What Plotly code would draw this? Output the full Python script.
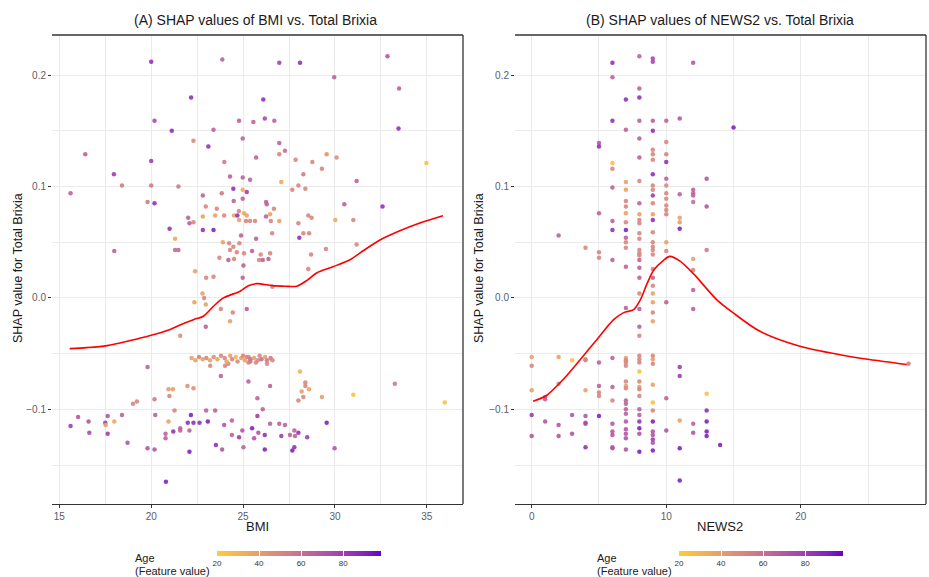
import plotly.graph_objects as go

# ---------------- DATA ----------------
# Panel A: BMI vs SHAP value (colour = Age)
bmi = [
    20.0, 23.87, 22.17, 20.18, 21.12, 23.39, 24.78, 25.56, 24.98, 22.30,
    23.11, 16.41, 20.0, 25.71, 23.98, 17.97, 24.29, 24.98, 25.38, 18.41,
    20.0, 21.48, 15.61, 22.81, 23.84, 24.47, 24.98, 25.20, 24.49, 24.98,
    19.80, 20.18, 22.97, 23.57, 24.77, 25.05, 22.01, 22.30, 22.08, 22.81,
    23.48, 23.97, 24.51, 24.69, 25.20, 24.78, 25.16, 25.38, 25.65, 21.0,
    22.81, 23.39, 24.89, 21.30, 23.90, 24.24, 24.80, 24.47, 25.71, 17.99,
    21.30, 21.48, 24.29, 24.66, 25.05, 25.49, 23.71, 24.20, 24.51, 25.02,
    25.87, 26.97, 28.10, 32.86, 29.96, 33.49, 26.10, 26.18, 26.70, 33.46,
    26.97, 27.28, 26.97, 27.86, 28.77, 29.55, 30.09, 29.29, 28.28, 31.18,
    27.08, 34.98, 28.01, 27.68, 28.39, 30.51, 32.59, 26.25, 26.29, 26.68,
    26.47, 26.25, 26.51, 26.97, 28.55, 28.73, 28.01, 30.02, 31.0, 26.58,
    28.28, 28.59, 28.06, 29.51, 31.18, 28.70, 25.96, 26.47, 26.38, 26.07,
    28.55, 22.39, 22.99, 23.39, 24.98, 22.79, 22.88, 22.97, 22.35, 23.79,
    24.44, 25.20, 22.97, 24.29, 21.58, 23.21, 24.02, 24.20, 25.29, 19.80,
    23.79, 25.29, 20.94, 21.18, 20.99, 21.97, 22.30, 19.01, 19.22, 20.18,
    21.27, 25.78, 15.61, 16.02, 16.59, 16.63, 17.50, 17.52, 17.63, 17.63,
    17.99, 18.41, 18.71, 19.80, 20.18, 20.22, 20.94, 20.78, 20.78, 21.20,
    21.58, 21.58, 21.99, 22.16, 22.08, 22.30, 22.63, 22.99, 23.08, 23.48,
    22.08, 23.52, 23.86, 23.97, 24.39, 24.39, 24.78, 24.96, 25.02, 25.49,
    25.60, 25.78, 25.83, 20.80, 26.59, 28.10, 28.39, 28.39, 28.19, 28.59,
    28.28, 28.01, 29.29, 31.0, 33.26, 35.98, 26.47, 26.07, 26.18, 26.47,
    26.97, 27.28, 27.08, 27.55, 27.79, 27.83, 28.01, 28.49, 29.55, 26.18,
    27.68, 27.79, 29.98, 22.2, 22.4, 22.6, 22.8, 23.0, 23.2, 23.4,
    23.6, 23.8, 24.0, 24.1, 24.3, 24.4, 24.6, 24.7, 24.9, 25.0,
    25.1, 25.3, 25.4, 25.6, 25.8, 25.9, 26.0, 26.2, 26.3, 26.5,
    26.6, 25.2, 25.4, 25.7, 26.3,
]
shap_bmi = [
    0.212, 0.214, 0.180, 0.159, 0.150, 0.151, 0.159, 0.158, 0.143, 0.141,
    0.136, 0.129, 0.123, 0.126, 0.122, 0.111, 0.109, 0.108, 0.106, 0.101,
    0.101, 0.100, 0.094, 0.092, 0.094, 0.098, 0.097, 0.095, 0.087, 0.089,
    0.086, 0.085, 0.082, 0.080, 0.078, 0.076, 0.072, 0.068, 0.067, 0.073,
    0.074, 0.074, 0.074, 0.074, 0.074, 0.070, 0.069, 0.069, 0.069, 0.062,
    0.061, 0.061, 0.056, 0.053, 0.050, 0.049, 0.049, 0.046, 0.053, 0.042,
    0.043, 0.043, 0.043, 0.041, 0.040, 0.042, 0.036, 0.034, 0.035, 0.029,
    0.034, 0.211, 0.211, 0.217, 0.198, 0.188, 0.178, 0.161, 0.159, 0.152,
    0.139, 0.132, 0.129, 0.124, 0.122, 0.129, 0.126, 0.116, 0.111, 0.105,
    0.104, 0.121, 0.101, 0.097, 0.098, 0.084, 0.082, 0.086, 0.084, 0.080,
    0.075, 0.073, 0.069, 0.069, 0.074, 0.072, 0.067, 0.070, 0.070, 0.058,
    0.058, 0.058, 0.054, 0.044, 0.048, 0.039, 0.039, 0.040, 0.035, 0.034,
    0.026, 0.024, 0.018, 0.019, 0.018, 0.004, 0.000, -0.006, -0.004, -0.010,
    -0.013, -0.010, -0.026, -0.021, -0.034, -0.061, -0.061, -0.059, -0.058, -0.062,
    -0.070, -0.075, -0.082, -0.082, -0.088, -0.079, -0.081, -0.095, -0.093, -0.091,
    -0.101, -0.090, -0.115, -0.107, -0.111, -0.121, -0.112, -0.114, -0.106, -0.122,
    -0.111, -0.105, -0.130, -0.135, -0.136, -0.105, -0.111, -0.122, -0.126, -0.120,
    -0.117, -0.119, -0.112, -0.105, -0.119, -0.112, -0.112, -0.101, -0.111, -0.101,
    -0.138, -0.132, -0.136, -0.114, -0.110, -0.123, -0.125, -0.119, -0.134, -0.117,
    -0.126, -0.106, -0.121, -0.165, 0.010, -0.066, -0.076, -0.079, -0.084, -0.082,
    -0.089, -0.092, -0.089, -0.087, -0.077, -0.094, -0.079, -0.100, -0.123, -0.113,
    -0.113, -0.114, -0.124, -0.123, -0.119, -0.124, -0.121, -0.125, -0.112, -0.136,
    -0.137, -0.134, -0.135, -0.054, -0.056, -0.053, -0.055, -0.054, -0.056, -0.053,
    -0.055, -0.052, -0.054, -0.057, -0.052, -0.055, -0.053, -0.057, -0.054, -0.052,
    -0.056, -0.053, -0.055, -0.054, -0.056, -0.052, -0.055, -0.053, -0.056, -0.054,
    -0.056, -0.053, -0.057, -0.058, -0.059,
]
age_bmi = [
    85, 65, 85, 75, 85, 65, 65, 65, 65, 48,
    85, 65, 80, 65, 55, 80, 65, 65, 65, 55,
    55, 55, 65, 65, 55, 85, 35, 80, 65, 65,
    55, 85, 50, 50, 50, 35, 65, 50, 65, 38,
    38, 50, 38, 85, 38, 38, 50, 50, 50, 85,
    85, 90, 65, 35, 38, 50, 50, 50, 65, 65,
    62, 62, 50, 50, 50, 65, 50, 65, 50, 65,
    50, 78, 85, 70, 65, 65, 85, 75, 65, 85,
    65, 60, 50, 50, 50, 45, 45, 50, 55, 65,
    35, 25, 50, 50, 50, 65, 85, 65, 65, 50,
    38, 65, 50, 38, 50, 50, 50, 35, 50, 50,
    50, 50, 85, 50, 50, 50, 50, 50, 65, 65,
    50, 38, 50, 50, 65, 38, 50, 38, 38, 50,
    50, 65, 65, 38, 45, 50, 50, 50, 50, 65,
    65, 65, 40, 40, 50, 45, 45, 50, 50, 55,
    50, 65, 80, 70, 70, 75, 80, 40, 70, 80,
    35, 65, 70, 70, 70, 65, 38, 65, 65, 85,
    65, 65, 85, 90, 65, 85, 85, 65, 90, 65,
    90, 85, 70, 70, 65, 65, 80, 70, 65, 90,
    70, 80, 70, 90, 50, 30, 50, 50, 40, 38,
    50, 50, 40, 25, 55, 25, 65, 65, 85, 65,
    65, 65, 80, 65, 65, 65, 85, 80, 90, 90,
    90, 85, 70, 38, 38, 50, 38, 50, 38, 45,
    38, 50, 50, 38, 38, 50, 30, 50, 38, 50,
    38, 50, 60, 38, 50, 50, 60, 38, 55, 55,
    50, 50, 55, 50, 50,
]
# smoothed trend (panel A)
bmi_smooth_x = [15.56, 16.5, 17.6, 18.86, 19.95, 21.0, 21.6, 22.3, 22.84, 23.39, 23.93,
                24.84, 25.29, 25.74, 26.6, 27.3, 27.92, 28.5, 29.0, 29.9, 30.82, 31.6,
                32.45, 33.5, 34.62, 35.88]
bmi_smooth_y = [-0.0455, -0.0446, -0.0428, -0.0383, -0.0338, -0.0285, -0.0240, -0.0195,
                -0.0165, -0.0075, 0.0, 0.006, 0.011, 0.0128, 0.011, 0.0105, 0.0105, 0.016,
                0.0224, 0.028, 0.0343, 0.043, 0.052, 0.060, 0.0672, 0.0738]

# Panel B: NEWS2 vs SHAP value (colour = Age)
news2 = [
    8, 9, 9, 6, 12, 6, 8, 7, 8, 6,
    8, 9, 10, 11, 7, 9, 5, 5, 8, 10,
    9, 9, 10, 8, 9, 10, 6, 6, 9, 10,
    7, 8, 6, 7, 9, 9, 10, 10, 11, 12,
    12, 12, 7, 7, 8, 9, 9, 10, 10, 10,
    5, 7, 8, 8, 8, 9, 9, 10, 11, 11,
    11, 6, 6, 7, 7, 7, 7, 7, 8, 8,
    9, 9, 9, 9, 9, 8, 8, 8, 10, 10,
    2, 4, 5, 5, 6, 7, 8, 12, 8, 8,
    8, 9, 9, 9, 9, 9, 9, 9, 10, 12,
    12, 7, 8, 8, 8, 0, 0, 2, 3, 4,
    4, 5, 6, 7, 7, 7, 7, 8, 8, 8,
    8, 9, 9, 9, 11, 11, 0, 1, 1, 2,
    4, 5, 5, 5, 6, 6, 7, 7, 7, 7,
    7, 7, 7, 8, 8, 8, 8, 8, 8, 9,
    9, 9, 10, 0, 1, 2, 2, 3, 3, 4,
    4, 4, 4, 5, 0, 6, 6, 6, 6, 6,
    7, 7, 7, 7, 7, 8, 8, 8, 8, 9,
    9, 9, 9, 9, 9, 10, 11, 11, 11, 12,
    12, 15, 13, 12, 13, 13, 12, 13, 13, 13,
    13, 13, 14, 28,
]
shap_news2 = [
    0.217, 0.215, 0.212, 0.211, 0.211, 0.198, 0.188, 0.178, 0.180, 0.159,
    0.159, 0.159, 0.159, 0.161, 0.151, 0.150, 0.139, 0.136, 0.143, 0.140,
    0.133, 0.129, 0.129, 0.126, 0.124, 0.122, 0.121, 0.116, 0.111, 0.107,
    0.104, 0.105, 0.099, 0.097, 0.101, 0.097, 0.101, 0.094, 0.093, 0.097,
    0.094, 0.086, 0.087, 0.082, 0.085, 0.092, 0.085, 0.089, 0.083, 0.079,
    0.076, 0.076, 0.075, 0.070, 0.067, 0.075, 0.070, 0.075, 0.072, 0.068,
    0.062, 0.069, 0.061, 0.068, 0.061, 0.054, 0.050, 0.045, 0.058, 0.053,
    0.059, 0.050, 0.046, 0.043, 0.039, 0.043, 0.040, 0.038, 0.050, 0.042,
    0.056, 0.045, 0.041, 0.036, 0.034, 0.028, 0.027, 0.035, 0.034, 0.018,
    0.004, 0.026, 0.018, 0.011, 0.004, -0.004, -0.013, -0.021, -0.004, 0.007,
    -0.010, -0.009, -0.010, -0.026, -0.034, -0.053, -0.061, -0.053, -0.056, -0.055,
    -0.056, -0.058, -0.054, -0.054, -0.056, -0.058, -0.061, -0.052, -0.055, -0.058,
    -0.066, -0.052, -0.055, -0.059, -0.062, -0.070, -0.083, -0.089, -0.091, -0.077,
    -0.083, -0.079, -0.085, -0.088, -0.080, -0.092, -0.075, -0.079, -0.081, -0.092,
    -0.095, -0.100, -0.104, -0.075, -0.080, -0.082, -0.088, -0.100, -0.105, -0.078,
    -0.094, -0.101, -0.090, -0.105, -0.111, -0.114, -0.124, -0.105, -0.122, -0.106,
    -0.112, -0.113, -0.134, -0.106, -0.124, -0.113, -0.120, -0.123, -0.134, -0.135,
    -0.111, -0.118, -0.122, -0.126, -0.136, -0.111, -0.117, -0.122, -0.138, -0.111,
    -0.120, -0.123, -0.127, -0.130, -0.137, -0.119, -0.110, -0.135, -0.164, -0.113,
    -0.121, 0.153, 0.107, 0.092, 0.082, 0.043, 0.025, -0.086, -0.101, -0.111,
    -0.120, -0.124, -0.132, -0.059,
]
age_news2 = [
    65, 75, 75, 85, 70, 65, 65, 85, 85, 85,
    65, 65, 65, 70, 65, 85, 70, 85, 65, 50,
    50, 50, 50, 65, 50, 85, 25, 50, 85, 65,
    38, 50, 65, 38, 50, 50, 50, 50, 65, 65,
    65, 60, 50, 50, 65, 80, 50, 50, 50, 50,
    65, 38, 38, 50, 50, 38, 85, 50, 38, 40,
    90, 65, 85, 50, 90, 65, 50, 50, 50, 50,
    50, 50, 50, 50, 50, 50, 50, 50, 38, 50,
    65, 50, 50, 50, 65, 65, 65, 38, 65, 65,
    50, 50, 65, 50, 38, 38, 50, 38, 65, 65,
    65, 65, 65, 65, 50, 38, 50, 38, 25, 50,
    50, 65, 65, 38, 50, 50, 50, 50, 50, 50,
    25, 50, 40, 50, 80, 80, 38, 65, 65, 50,
    38, 65, 50, 50, 65, 50, 50, 40, 50, 65,
    65, 65, 65, 50, 40, 50, 50, 65, 65, 38,
    25, 50, 65, 80, 70, 70, 70, 70, 70, 70,
    75, 75, 85, 90, 70, 70, 70, 70, 70, 70,
    70, 70, 70, 70, 70, 85, 90, 70, 90, 90,
    70, 70, 80, 70, 90, 70, 38, 90, 90, 65,
    70, 90, 70, 65, 70, 55, 50, 25, 85, 90,
    90, 90, 90, 55,
]
news_smooth_x = [0.1, 1.1, 2.36, 3.6, 4.85, 6.09, 6.84, 7.58, 8.08, 8.58, 9.07, 9.82,
                 10.27, 11.02, 12.0, 13.74, 14.98, 16.96, 19.93, 22.9, 25.1, 27.86]
news_smooth_y = [-0.0927, -0.0876, -0.073, -0.0555, -0.0373, -0.0195, -0.0132, -0.0105,
                 -0.0015, 0.013, 0.025, 0.034, 0.0373, 0.033, 0.022, -0.0015, -0.0135,
                 -0.030, -0.0434, -0.051, -0.0553, -0.0598]

age_ticks = [20, 40, 60, 80]

# ---------------- STYLE HELPERS ----------------
W, H = 929, 577
LOW, HIGH = "#FFCC33", "#6600CC"


def _lin(c):
    c = c / 255.0
    return c / 12.92 if c <= 0.04045 else ((c + 0.055) / 1.055) ** 2.4


def _gam(c):
    c = max(0.0, c)
    c = 12.92 * c if c <= 0.0031308 else 1.055 * c ** (1 / 2.4) - 0.055
    return max(0, min(255, round(c * 255)))


def hex2lab(h):
    r, g, b = (_lin(int(h[i:i + 2], 16)) for i in (1, 3, 5))
    X = (0.4124 * r + 0.3576 * g + 0.1805 * b) / 0.95047
    Y = (0.2126 * r + 0.7152 * g + 0.0722 * b)
    Z = (0.0193 * r + 0.1192 * g + 0.9505 * b) / 1.08883
    f = lambda t: t ** (1 / 3) if t > 0.008856 else 7.787 * t + 16 / 116
    fx, fy, fz = f(X), f(Y), f(Z)
    return 116 * fy - 16, 500 * (fx - fy), 200 * (fy - fz)


def lab2rgb(L, a, b):
    fy = (L + 16) / 116
    fx = fy + a / 500
    fz = fy - b / 200
    finv = lambda t: t ** 3 if t ** 3 > 0.008856 else (t - 16 / 116) / 7.787
    X, Y, Z = finv(fx) * 0.95047, finv(fy), finv(fz) * 1.08883
    r = 3.2406 * X - 1.5372 * Y - 0.4986 * Z
    g = -0.9689 * X + 1.8758 * Y + 0.0415 * Z
    bb = 0.0557 * X - 0.2040 * Y + 1.0570 * Z
    return "rgb(%d,%d,%d)" % (_gam(r), _gam(g), _gam(bb))


l1, l2 = hex2lab(LOW), hex2lab(HIGH)
N = 12
colorscale = [[i / N, lab2rgb(*[l1[k] + (l2[k] - l1[k]) * i / N for k in range(3)])]
              for i in range(N + 1)]


def px_x(p):
    return p / W


def px_y(p):
    return 1 - p / H


FONT = "Arial, Liberation Sans, sans-serif"
GRID = "#EBEBEB"
AX = "#333333"
TICKCOL = "#5b5b6b"

# panel geometry (pixels)
A_L, A_R = 52, 463
B_L, B_R = 515, 926
TOP, BOT = 35, 504

fig = go.Figure()

fig.add_trace(go.Scatter(
    x=bmi, y=shap_bmi, mode="markers", xaxis="x", yaxis="y",
    marker=dict(size=4.5, color=age_bmi, coloraxis="coloraxis", opacity=0.9,
                line=dict(width=0)),
    showlegend=False))
fig.add_trace(go.Scatter(
    x=bmi_smooth_x, y=bmi_smooth_y, mode="lines", xaxis="x", yaxis="y",
    line=dict(color="#FF0000", width=1.6, shape="spline", smoothing=0.8),
    showlegend=False))

fig.add_trace(go.Scatter(
    x=news2, y=shap_news2, mode="markers", xaxis="x2", yaxis="y2",
    marker=dict(size=4.5, color=age_news2, coloraxis="coloraxis2", opacity=0.9,
                line=dict(width=0)),
    showlegend=False))
fig.add_trace(go.Scatter(
    x=news_smooth_x, y=news_smooth_y, mode="lines", xaxis="x2", yaxis="y2",
    line=dict(color="#FF0000", width=1.6, shape="spline", smoothing=0.8),
    showlegend=False))

yrange = [-0.185, 0.236]


def xaxis_cfg(domain, rng, dtick, minor, anchor):
    return dict(domain=domain, range=rng, dtick=dtick, tick0=0, anchor=anchor,
                showgrid=True, gridcolor=GRID, gridwidth=1, zeroline=False,
                showline=True, linecolor=AX, linewidth=1.3,
                ticks="outside", ticklen=3, tickcolor=AX, tickwidth=1,
                tickfont=dict(family=FONT, size=10, color=TICKCOL),
                minor=dict(dtick=minor, tick0=0, showgrid=True, gridcolor=GRID,
                           gridwidth=1, ticks=""))


def yaxis_cfg(anchor):
    return dict(domain=[px_y(BOT), px_y(TOP)], range=yrange, anchor=anchor,
                dtick=0.1, tick0=0, tickformat=".1f",
                showgrid=True, gridcolor=GRID, gridwidth=1, zeroline=False,
                showline=False, ticks="outside", ticklen=3, tickcolor=AX, tickwidth=1,
                tickfont=dict(family=FONT, size=10, color=TICKCOL),
                minor=dict(dtick=0.05, tick0=0, showgrid=True, gridcolor=GRID,
                           gridwidth=1, ticks=""))


def cbar(xc):
    return dict(orientation="h", x=px_x(xc), xanchor="center", y=px_y(551),
                yanchor="top", yref="paper", xref="paper",
                lenmode="pixels", len=164, thickness=5, thicknessmode="pixels",
                xpad=0, ypad=0, outlinewidth=0,
                tickvals=age_ticks, ticks="inside", ticklen=5, tickcolor="white",
                tickwidth=1, tickfont=dict(family=FONT, size=8, color="#333333"))


shapes = []
for xr, yr in (("x domain", "y domain"), ("x2 domain", "y2 domain")):
    shapes.append(dict(type="line", xref=xr, yref=yr, x0=0, x1=1, y0=1, y1=1,
                       line=dict(color=AX, width=1.3)))
    shapes.append(dict(type="line", xref=xr, yref=yr, x0=1, x1=1, y0=0, y1=1,
                       line=dict(color=AX, width=1.3)))


def ann(text, xp, yp, size, xanchor="center", angle=0, color="#1a1a1a"):
    return dict(text=text, x=px_x(xp), y=px_y(yp), xref="paper", yref="paper",
                xanchor=xanchor, yanchor="middle", showarrow=False, textangle=angle,
                font=dict(family=FONT, size=size, color=color))


annotations = [
    ann("(A) SHAP values of BMI vs. Total Brixia", 256, 20, 14),
    ann("(B) SHAP values of NEWS2 vs. Total Brixia", 720, 20, 14),
    ann("BMI", 257, 526, 13),
    ann("NEWS2", 720, 526, 13),
    ann("SHAP value for Total Brixia", 18, 268, 12.5, angle=-90),
    ann("SHAP value for Total Brixia", 479, 268, 12.5, angle=-90),
    ann("Age", 133, 558, 11, xanchor="left"),
    ann("(Feature value)", 133, 571, 11, xanchor="left"),
    ann("Age", 595, 558, 11, xanchor="left"),
    ann("(Feature value)", 595, 571, 11, xanchor="left"),
]

fig.update_layout(
    width=W, height=H, margin=dict(l=0, r=0, t=0, b=0),
    paper_bgcolor="white", plot_bgcolor="white",
    xaxis=xaxis_cfg([px_x(A_L), px_x(A_R)], [14.6, 36.97], 5, 2.5, "y"),
    yaxis=yaxis_cfg("x"),
    xaxis2=xaxis_cfg([px_x(B_L), px_x(B_R)], [-1.24, 29.3], 10, 5, "y2"),
    yaxis2=yaxis_cfg("x2"),
    coloraxis=dict(colorscale=colorscale, cmin=20, cmax=98, colorbar=cbar(299)),
    coloraxis2=dict(colorscale=colorscale, cmin=20, cmax=98, colorbar=cbar(761)),
    shapes=shapes, annotations=annotations, showlegend=False,
    font=dict(family=FONT),
)

fig.write_html("out.html")
